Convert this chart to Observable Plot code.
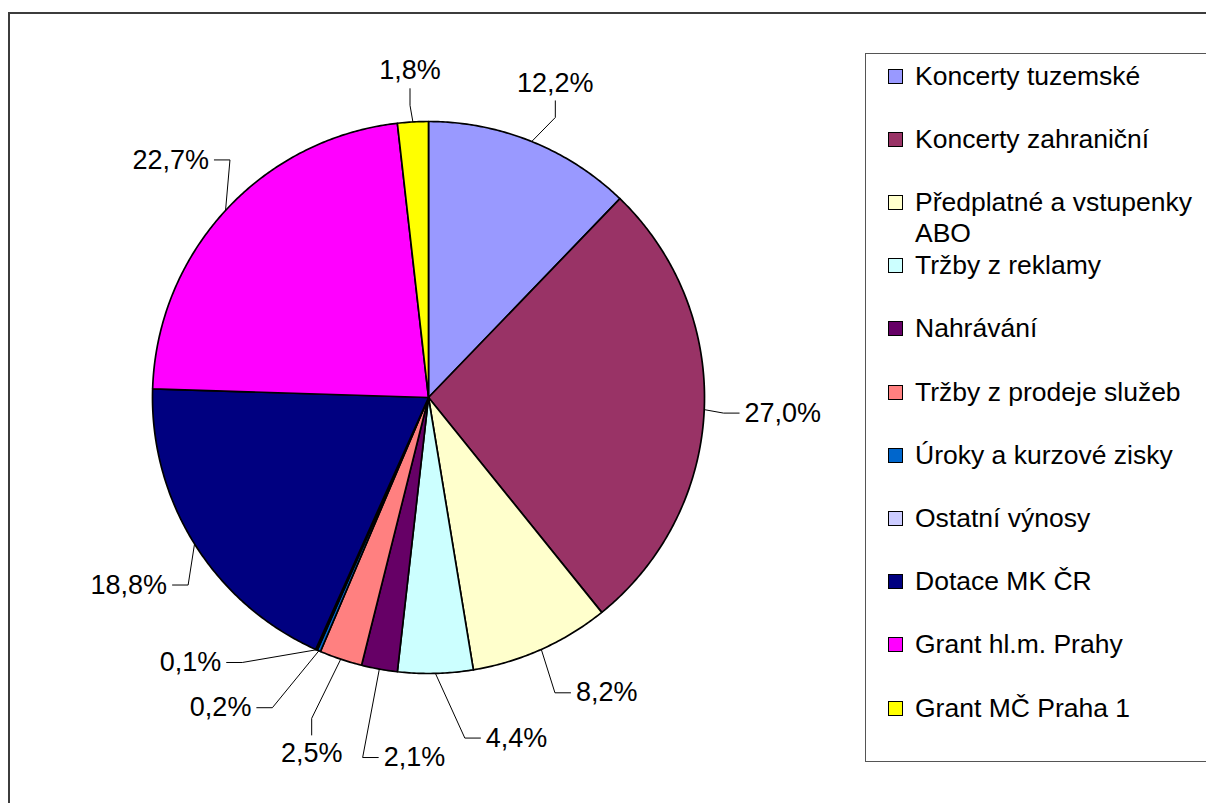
<!DOCTYPE html>
<html>
<head>
<meta charset="utf-8">
<script src="https://cdn.jsdelivr.net/npm/d3@7"></script>
<script src="https://cdn.jsdelivr.net/npm/@observablehq/plot@0.6"></script>
<style>
  html, body { margin: 0; padding: 0; background: #fff; }
  #root { position: relative; width: 1206px; height: 803px; overflow: hidden; background: #fff;
          font-family: "Liberation Sans", Arial, sans-serif; }
  #frame { position: absolute; left: 8px; top: 12px; width: 1260px; height: 860px;
           border: 2px solid #3c3c3c; box-sizing: border-box; }
  #chart { position: absolute; left: 0; top: 0; }
  #legend { position: absolute; left: 865px; top: 53px; width: 400px; height: 709px;
            border: 1.5px solid #555; box-sizing: border-box; background: #fff; }
  .row { position: absolute; left: 0; height: 31px; }
  .sw { position: absolute; left: 22px; top: 8px; width: 15px; height: 15px;
        border: 1px solid #000; box-sizing: border-box; }
  .lt { position: absolute; left: 49px; top: 0; width: 292px; font-size: 26.5px; line-height: 31px;
        color: #000; white-space: normal; }
</style>
</head>
<body>
<div id="root">
  <div id="frame"></div>
  <div id="chart"></div>
  <div id="legend"></div>
</div>
<script>
// ---- data ----
const categories = [
  "Koncerty tuzemské",
  "Koncerty zahraniční",
  "Předplatné a vstupenky ABO",
  "Tržby z reklamy",
  "Nahrávání",
  "Tržby z prodeje služeb",
  "Úroky a kurzové zisky",
  "Ostatní výnosy",
  "Dotace MK ČR",
  "Grant hl.m. Prahy",
  "Grant MČ Praha 1"
];
const shares = [12.2, 27.0, 8.2, 4.4, 2.1, 2.5, 0.2, 0.1, 18.8, 22.7, 1.8];
const colors = ["#9999FF", "#993366", "#FFFFCC", "#CCFFFF", "#660066", "#FF8080",
                "#0066CC", "#CCCCFF", "#000080", "#FF00FF", "#FFFF00"];

// ---- layout constants ----
const W = 1206, H = 803;
const CX = 428, CY = 397, R = 276;     // pie centre and radius in px
const FONT = 27;
const GAP = 40;
const PADX = 40, PADY = 26;
const MAXPUSH = 45;

// ---- pie geometry (data units: unit circle, y up) ----
const total = d3.sum(shares);
let acc = 0;
const slices = shares.map((v, i) => {
  const a0 = acc / total * 2 * Math.PI;
  acc += v;
  const a1 = acc / total * 2 * Math.PI;
  return {cat: categories[i], value: v, a0, a1, mid: (a0 + a1) / 2};
});
const slicePts = [];
for (const s of slices) {
  const n = Math.max(2, Math.ceil((s.a1 - s.a0) / (Math.PI / 360)));
  slicePts.push({cat: s.cat, x: 0, y: 0});
  for (let k = 0; k <= n; k++) {
    const a = s.a0 + (s.a1 - s.a0) * k / n;
    slicePts.push({cat: s.cat, x: Math.sin(a), y: Math.cos(a)});
  }
  slicePts.push({cat: s.cat, x: 0, y: 0});
}

// ---- labels: layout in px relative to centre (screen y down) ----
const fmt = v => v.toFixed(1).replace(".", ",") + "%";
const ctx = document.createElement("canvas").getContext("2d");
ctx.font = `${FONT}px "Liberation Sans", Arial, sans-serif`;
const labH = 19;
const labs = slices.map(s => {
  const text = fmt(s.value);
  return {cat: s.cat, text, w: ctx.measureText(text).width, h: labH, mid: s.mid, th: s.mid, e: 0};
});
function place(l) {
  const sx = Math.sin(l.th), sy = -Math.cos(l.th);
  const D = R + GAP + l.e + (l.w / 2) * Math.abs(sx) + (l.h / 2) * Math.abs(sy);
  l.px = D * sx; l.py = D * sy;
}
labs.forEach(place);
// collision relaxation: overlapping neighbours are pushed apart around the pie and a little outward
for (let it = 0; it < 4000; it++) {
  let moved = false;
  for (let i = 0; i < labs.length - 1; i++) {
    const a = labs[i], b = labs[i + 1];
    if (Math.abs(a.px - b.px) < (a.w + b.w) / 2 + PADX && Math.abs(a.py - b.py) < (a.h + b.h) / 2 + PADY) {
      a.th -= 0.002; b.th += 0.002;
      a.e = Math.min(MAXPUSH, a.e + 0.08); b.e = Math.min(MAXPUSH, b.e + 0.08);
      place(a); place(b); moved = true;
    }
  }
  if (!moved) break;
}
// leader lines
const leaderPts = [];
labs.forEach((l, i) => {
  const ax = R * Math.sin(l.mid), ay = -R * Math.cos(l.mid);
  const left = l.px - l.w / 2, right = l.px + l.w / 2;
  const top = l.py - l.h / 2, bottom = l.py + l.h / 2;
  let p1, p2;
  if (ax >= left && ax <= right) {
    if (ay > l.py) { p1 = [l.px, bottom + 8]; p2 = [l.px, bottom + 25]; }
    else { p1 = [l.px, top - 8]; p2 = [l.px, top - 25]; }
  } else if (ax > right) {
    p1 = [right + 5, l.py]; p2 = [right + 21, l.py];
  } else {
    p1 = [left - 5, l.py]; p2 = [left - 21, l.py];
  }
  for (const p of [p1, p2, [ax, ay]]) leaderPts.push({id: i, x: p[0] / R, y: -p[1] / R});
});
const labelData = labs.map(l => ({text: l.text, x: l.px / R, y: -l.py / R}));

// ---- plot ----
const chart = Plot.plot({
  width: W, height: H,
  marginTop: 0, marginRight: 0, marginBottom: 0, marginLeft: 0,
  x: {domain: [-1, 1], range: [CX - R, CX + R], axis: null},
  y: {domain: [-1, 1], range: [CY + R, CY - R], axis: null},
  color: {domain: categories, range: colors},
  style: {background: "transparent", fontFamily: '"Liberation Sans", Arial, sans-serif', overflow: "visible"},
  marks: [
    Plot.line(slicePts, {x: "x", y: "y", z: "cat", fill: "cat", stroke: "#000",
                         strokeWidth: 1.7, strokeLinejoin: "round", curve: "linear"}),
    Plot.line(leaderPts, {x: "x", y: "y", z: "id", stroke: "#000", strokeWidth: 1,
                          curve: "linear", strokeLinecap: "butt"}),
    Plot.text(labelData, {x: "x", y: "y", text: "text", fontSize: FONT, fill: "#000",
                          textAnchor: "middle", lineAnchor: "middle"})
  ]
});
document.getElementById("chart").appendChild(chart);

// ---- legend ----
const legend = document.getElementById("legend");
categories.forEach((c, i) => {
  const row = document.createElement("div");
  row.className = "row";
  row.style.top = (22 + 63.2 * i - 15.5) + "px";
  const sw = document.createElement("div");
  sw.className = "sw";
  sw.style.background = colors[i];
  const t = document.createElement("div");
  t.className = "lt";
  t.textContent = c;
  row.appendChild(sw); row.appendChild(t);
  legend.appendChild(row);
});
</script>
</body>
</html>
